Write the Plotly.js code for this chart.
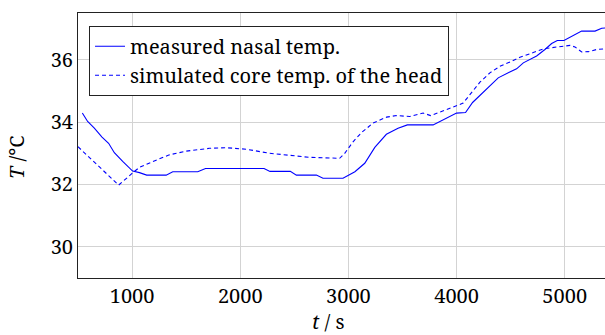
<!DOCTYPE html>
<html>
<head>
<meta charset="utf-8">
<script src="https://cdn.plot.ly/plotly-3.0.1.min.js"></script>
<style>
html,body{margin:0;padding:0;overflow:hidden;background:#fff;width:605px;height:335px;}
#chart{width:620px;height:335px;}
</style>
</head>
<body>
<div id="chart"></div>
<script>
// Measured nasal temperature
const measuredT = [540, 589, 651, 722, 783, 836, 913, 1005, 1068, 1135, 1315, 1376, 1607, 1679, 2220, 2275, 2463, 2519, 2704, 2765, 2950, 3060, 3151, 3244, 3351, 3459, 3545, 3783, 4000, 4083, 4148, 4385, 4487, 4555, 4617, 4740, 4817, 4879, 4931, 4993, 5156, 5280, 5342, 5400];
const measuredTemp = [34.29, 34.02, 33.81, 33.52, 33.32, 33.02, 32.74, 32.43, 32.38, 32.3, 32.3, 32.41, 32.41, 32.51, 32.51, 32.42, 32.42, 32.3, 32.3, 32.2, 32.2, 32.41, 32.68, 33.19, 33.61, 33.8, 33.91, 33.91, 34.29, 34.31, 34.63, 35.42, 35.6, 35.71, 35.9, 36.12, 36.33, 36.52, 36.62, 36.62, 36.92, 36.92, 37.01, 37.03];
// Simulated core temperature of the head
const simT = [500, 700, 876, 1005, 1068, 1222, 1345, 1500, 1716, 1870, 2056, 2271, 2533, 2642, 2919, 2966, 3043, 3120, 3228, 3352, 3444, 3568, 3691, 3760, 3907, 4000, 4061, 4123, 4216, 4308, 4401, 4494, 4586, 4709, 4802, 4926, 5049, 5095, 5157, 5219, 5296, 5400];
const simTemp = [33.21, 32.56, 31.98, 32.37, 32.55, 32.78, 32.95, 33.07, 33.16, 33.18, 33.13, 33.0, 32.91, 32.87, 32.84, 33.0, 33.37, 33.66, 33.97, 34.16, 34.21, 34.18, 34.29, 34.21, 34.4, 34.52, 34.61, 34.88, 35.28, 35.58, 35.79, 35.93, 36.08, 36.23, 36.35, 36.41, 36.46, 36.41, 36.25, 36.26, 36.33, 36.36];

const xTicks = [1000, 2000, 3000, 4000, 5000];
const yTicks = [30, 32, 34, 36];
const seriesNames = ['measured nasal temp.', 'simulated core temp. of the head'];

const FONT = 'Noto Serif';

const traces = [
  {x: measuredT, y: measuredTemp, name: seriesNames[0], mode: 'lines', type: 'scatter',
   line: {color: '#0000ff', width: 1.1}},
  {x: simT, y: simTemp, name: seriesNames[1], mode: 'lines', type: 'scatter',
   line: {color: '#0000ff', width: 1.1, dash: '4px,3px'}}
];

const layout = {
  width: 620, height: 335,
  margin: {l: 78, r: 12, t: 13, b: 57},
  paper_bgcolor: '#fff', plot_bgcolor: '#fff',
  font: {family: FONT, size: 20, color: '#000'},
  showlegend: true,
  legend: {
    x: 0.0208, y: 0.952, xanchor: 'left', yanchor: 'top',
    bgcolor: '#fff', bordercolor: '#222', borderwidth: 1,
    font: {family: FONT, size: 20, color: '#000'}
  },
  xaxis: {
    range: [500, 5400], tickvals: xTicks, ticktext: xTicks.map(String),
    showgrid: true, gridcolor: '#d3d3d3', gridwidth: 1,
    showline: true, linecolor: '#222', linewidth: 1, mirror: true,
    ticks: '', zeroline: false, tickfont: {family: FONT, size: 20}
  },
  yaxis: {
    range: [29, 37.5], tickvals: yTicks, ticktext: yTicks.map(String),
    showgrid: true, gridcolor: '#d3d3d3', gridwidth: 1,
    showline: true, linecolor: '#222', linewidth: 1, mirror: true,
    ticks: '', zeroline: false, tickfont: {family: FONT, size: 20}
  },
  annotations: [
    {text: '<i>t</i> / s', xref: 'paper', yref: 'paper', x: 0.472, y: 1 - (321 - 13) / 265,
     xanchor: 'center', yanchor: 'middle', showarrow: false, font: {family: FONT, size: 20}},
    {text: '<i>T</i> /°C', xref: 'paper', yref: 'paper', x: -0.117, y: 1 - (157 - 13) / 265,
     xanchor: 'center', yanchor: 'middle', textangle: -90, showarrow: false, font: {family: FONT, size: 20}}
  ]
};

Plotly.newPlot('chart', traces, layout, {displayModeBar: false, staticPlot: true});
</script>
</body>
</html>
